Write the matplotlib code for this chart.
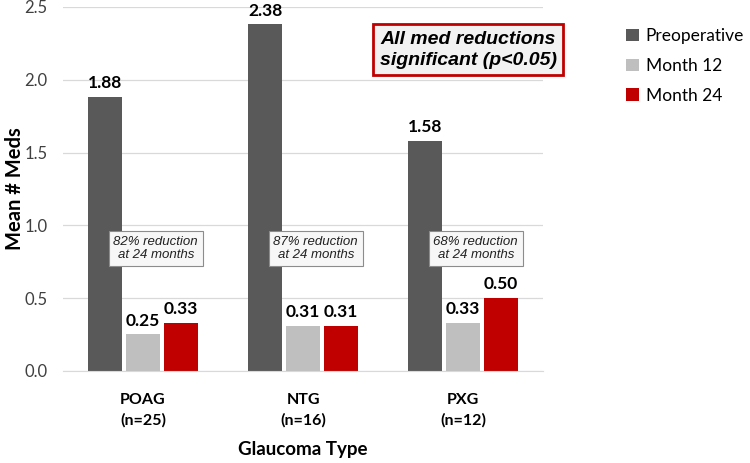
import numpy as np
import matplotlib
matplotlib.use("Agg")
from matplotlib import pyplot as plt

categories = ['POAG\n(n=25)', 'NTG\n(n=16)', 'PXG\n(n=12)']
series_names = ['Preoperative', 'Month 12', 'Month 24']
preop = [1.88, 2.38, 1.58]
month12 = [0.25, 0.31, 0.33]
month24 = [0.33, 0.31, 0.50]
reductions = ['82% reduction\nat 24 months', '87% reduction\nat 24 months', '68% reduction\nat 24 months']

colors = ['#595959', '#bfbfbf', '#c00000']
plt.rcParams['font.family'] = ['Lato', 'DejaVu Sans']

fig = plt.figure(figsize=(7.5, 4.63), dpi=100)
ax = fig.add_axes([0.084, 0.199, 0.64, 0.786])

x = np.arange(len(categories))
w = 0.21
step = 0.236
for i, (vals, name, c) in enumerate(zip([preop, month12, month24], series_names, colors)):
	pos = x + (i - 1) * step
	ax.bar(pos, vals, w, color=c, label=name, zorder=3)
	for p, v in zip(pos, vals):
		ax.text(p, v + 0.04, '%.2f' % v, ha='center', va='bottom',
				fontsize=12.5, fontweight='bold', color='black')

for xi, txt in zip(x, reductions):
	ax.text(xi + 0.08, 0.84, txt, ha='center', va='center', fontsize=9.5,
			style='italic', family='Liberation Sans', color='#222222', linespacing=1.15,
			bbox=dict(boxstyle='square,pad=0.35', fc='#f7f7f7', ec='#8c8c8c', lw=0.8), zorder=5)

ax.text(0.844, 0.882, 'All med reductions\nsignificant (p<0.05)', transform=ax.transAxes,
		ha='center', va='center', fontsize=14, fontweight='bold', style='italic',
		family='Liberation Sans', linespacing=1.25,
		bbox=dict(boxstyle='square,pad=0.35', fc='#f2f2f2', ec='#c00000', lw=2), zorder=5)

ax.set_xlim(-0.5, 2.5)
ax.set_ylim(0, 2.5)
ax.set_yticks(np.arange(0, 2.51, 0.5))
ax.set_yticklabels(['%.1f' % v for v in np.arange(0, 2.51, 0.5)])
ax.set_xticks(x)
ax.set_xticklabels(categories, fontweight='bold', fontsize=11.5, linespacing=1.5)
ax.tick_params(axis='both', length=0)
ax.tick_params(axis='y', labelsize=12, colors='#404040', pad=11)
ax.tick_params(axis='x', pad=16)
ax.grid(axis='y', color='#d9d9d9', lw=0.9, zorder=0)
for s in ['top', 'right', 'left']:
	ax.spines[s].set_visible(False)
ax.spines['bottom'].set_color('#d9d9d9')
ax.spines['bottom'].set_zorder(4)

ax.set_ylabel('Mean # Meds', fontsize=14.5, fontweight='bold')
ax.yaxis.set_label_coords(-0.08, 0.5)
ax.set_xlabel('Glaucoma Type', fontsize=13.5, fontweight='bold', labelpad=10)

ax.legend(loc='upper left', bbox_to_anchor=(1.14, 0.985), frameon=False, fontsize=12.5,
		  handlelength=0.75, handleheight=0.75, handletextpad=0.4, labelspacing=0.8)

fig.savefig('out.png', dpi=100)
